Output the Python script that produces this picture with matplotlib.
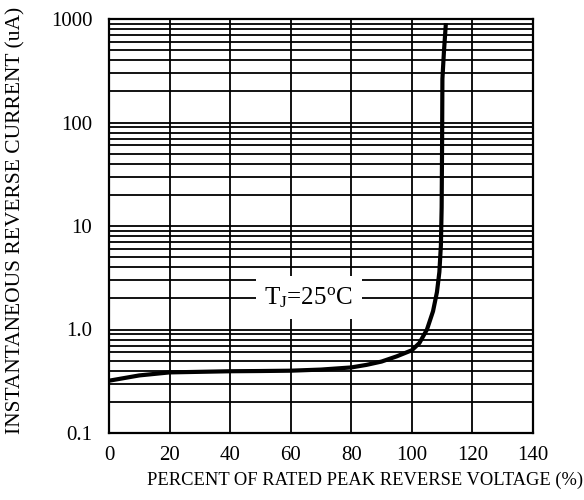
import matplotlib
matplotlib.use("Agg")
import matplotlib.pyplot as plt
from matplotlib.ticker import LogLocator, NullFormatter

plt.rcParams["font.family"] = ["Liberation Serif", "DejaVu Serif"]
plt.rcParams["mathtext.default"] = "regular"

# Curva (percentual da tensão x corrente reversa em uA)
percentual = [0, 10, 20, 30, 40, 50, 60, 70, 80, 85, 90, 95, 100, 102.5,
              105, 107, 108.3, 109.1, 109.6, 109.85, 110.0, 110.1, 110.6, 111.2]
corrente = [0.32, 0.36, 0.385, 0.39, 0.395, 0.397, 0.40, 0.41, 0.43, 0.455,
            0.49, 0.55, 0.63, 0.74, 1.0, 1.5, 2.3, 3.6, 6.5, 15, 66, 264, 480, 870]

xticks = [0, 20, 40, 60, 80, 100, 120, 140]
yticks = [0.1, 1, 10, 100, 1000]
ytick_labels = ["0.1", "1.0", "10", "100", "1000"]

fig = plt.figure(figsize=(5.84, 5.0), dpi=100)
ax = fig.add_axes([0.1866, 0.134, 0.726, 0.828])

ax.semilogy(percentual, corrente, color="black", lw=3, zorder=4)

ax.set_xlim(0, 140)
ax.set_ylim(0.1, 1000)
ax.set_xticks(xticks)
ax.set_yticks(yticks)
ax.set_yticklabels(ytick_labels)
ax.yaxis.set_minor_locator(LogLocator(base=10, subs=range(2, 10)))
ax.yaxis.set_minor_formatter(NullFormatter())

ax.grid(which="both", axis="y", color="black", lw=1.3)
ax.grid(which="major", axis="x", color="black", lw=1.3)
ax.tick_params(which="both", length=0)
ax.tick_params(axis="y", pad=12, labelsize=15)
ax.tick_params(axis="x", pad=9, labelsize=15)
for s in ax.spines.values():
    s.set_linewidth(1.6)

ax.set_xlabel("PERCENT OF RATED PEAK REVERSE VOLTAGE (%)", fontsize=13.3, va="center")
ax.set_ylabel("INSTANTANEOUS REVERSE CURRENT (uA)", fontsize=15.5, va="center")
ax.xaxis.set_label_coords(0.603, -0.1135)
ax.yaxis.set_label_coords(-0.219, 0.514)

ax.text(66, 2.04, "T$_{J}$=25$^{o}$C", fontsize=18, ha="center", va="center",
        zorder=5,
        bbox=dict(facecolor="white", edgecolor="none", boxstyle="square,pad=0.35"))

plt.savefig("out.png", dpi=100)
